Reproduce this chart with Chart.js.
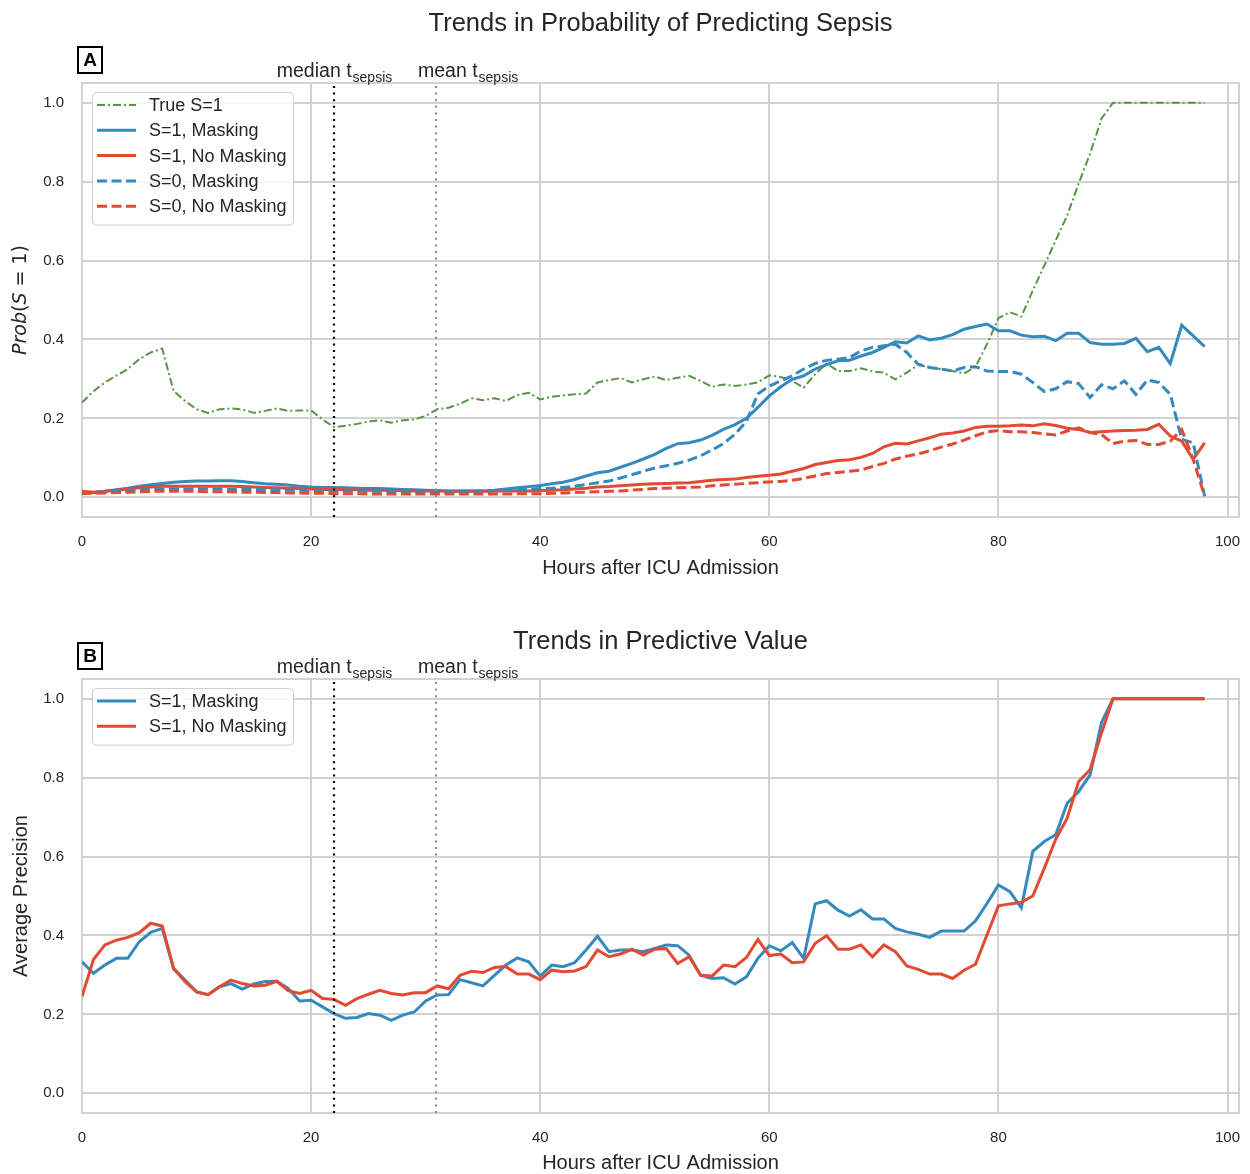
<!DOCTYPE html>
<html>
<head>
<meta charset="utf-8">
<script src="https://cdn.jsdelivr.net/npm/chart.js@4.4.0/dist/chart.umd.min.js"></script>
<style>
  body { margin: 0; background: #fff; width: 1250px; height: 1174px; overflow: hidden; position: relative; }
  .panel { position: absolute; left: 0; width: 1250px; }
  #panelA { top: 0; height: 587px; }
  #panelB { top: 596px; height: 580px; }
</style>
</head>
<body>
<div class="panel" id="panelA"><canvas id="chartA"></canvas></div>
<div class="panel" id="panelB"><canvas id="chartB"></canvas></div>
<script>
// hours after ICU admission
const hours = [
  0, 1, 2, 3, 4, 5, 6, 7, 8, 9, 10, 11, 12, 13, 14, 15, 16, 17, 18, 19,
  20, 21, 22, 23, 24, 25, 26, 27, 28, 29, 30, 31, 32, 33, 34, 35, 36, 37, 38, 39,
  40, 41, 42, 43, 44, 45, 46, 47, 48, 49, 50, 51, 52, 53, 54, 55, 56, 57, 58, 59,
  60, 61, 62, 63, 64, 65, 66, 67, 68, 69, 70, 71, 72, 73, 74, 75, 76, 77, 78, 79,
  80, 81, 82, 83, 84, 85, 86, 87, 88, 89, 90, 91, 92, 93, 94, 95, 96, 97, 98
];

const medianT = 22;
const meanT = 30.9;

const xTickValues = [0, 20, 40, 60, 80, 100];
const yTickValues = [0, 0.2, 0.4, 0.6, 0.8, 1.0];

// panel A: Prob(S = 1)
const trueS1 = [
  0.240, 0.269, 0.291, 0.308, 0.325, 0.350, 0.367, 0.377, 0.269, 0.244,
  0.223, 0.214, 0.223, 0.225, 0.223, 0.214, 0.219, 0.225, 0.219, 0.220,
  0.220, 0.197, 0.178, 0.181, 0.186, 0.192, 0.195, 0.189, 0.195, 0.197,
  0.206, 0.223, 0.227, 0.237, 0.251, 0.246, 0.251, 0.244, 0.259, 0.265,
  0.248, 0.255, 0.258, 0.261, 0.263, 0.291, 0.297, 0.302, 0.291, 0.299,
  0.306, 0.297, 0.303, 0.308, 0.295, 0.280, 0.286, 0.282, 0.286, 0.291,
  0.309, 0.305, 0.295, 0.278, 0.312, 0.339, 0.320, 0.320, 0.327, 0.319,
  0.316, 0.299, 0.316, 0.336, 0.329, 0.325, 0.320, 0.314, 0.331, 0.388,
  0.454, 0.469, 0.458, 0.524, 0.587, 0.651, 0.714, 0.795, 0.871, 0.960,
  1.0, 1.0, 1.0, 1.0, 1.0, 1.0, 1.0, 1.0, 1.0
];
const s1Masking = [
  0.009, 0.012, 0.015, 0.019, 0.023, 0.028, 0.032, 0.035, 0.038, 0.040,
  0.041, 0.041, 0.042, 0.042, 0.040, 0.037, 0.034, 0.033, 0.031, 0.028,
  0.026, 0.025, 0.025, 0.024, 0.023, 0.022, 0.022, 0.021, 0.020, 0.019,
  0.018, 0.017, 0.016, 0.016, 0.016, 0.016, 0.018, 0.021, 0.024, 0.027,
  0.030, 0.034, 0.038, 0.045, 0.054, 0.062, 0.066, 0.076, 0.086, 0.097,
  0.109, 0.124, 0.136, 0.138, 0.145, 0.157, 0.172, 0.184, 0.200, 0.228,
  0.257, 0.280, 0.299, 0.308, 0.325, 0.336, 0.346, 0.347, 0.358, 0.367,
  0.380, 0.394, 0.391, 0.409, 0.399, 0.403, 0.412, 0.426, 0.433, 0.439,
  0.422, 0.422, 0.411, 0.407, 0.408, 0.397, 0.416, 0.416, 0.392, 0.388,
  0.388, 0.390, 0.403, 0.369, 0.380, 0.339, 0.436, 0.409, 0.382
];
const s1NoMasking = [
  0.015, 0.013, 0.015, 0.018, 0.021, 0.024, 0.026, 0.028, 0.028, 0.028,
  0.028, 0.028, 0.028, 0.028, 0.027, 0.026, 0.025, 0.024, 0.023, 0.022,
  0.021, 0.020, 0.020, 0.019, 0.019, 0.018, 0.018, 0.017, 0.017, 0.016,
  0.016, 0.016, 0.015, 0.015, 0.015, 0.015, 0.015, 0.016, 0.016, 0.016,
  0.017, 0.018, 0.019, 0.021, 0.023, 0.026, 0.027, 0.029, 0.031, 0.033,
  0.034, 0.035, 0.036, 0.037, 0.040, 0.043, 0.045, 0.046, 0.050, 0.053,
  0.056, 0.059, 0.066, 0.073, 0.083, 0.088, 0.093, 0.095, 0.101, 0.111,
  0.128, 0.137, 0.135, 0.143, 0.151, 0.160, 0.163, 0.168, 0.177, 0.180,
  0.180, 0.181, 0.183, 0.181, 0.186, 0.182, 0.175, 0.172, 0.164, 0.166,
  0.168, 0.169, 0.170, 0.172, 0.185, 0.155, 0.142, 0.096, 0.138
];
const s0Masking = [
  0.012, 0.012, 0.014, 0.016, 0.018, 0.019, 0.020, 0.021, 0.021, 0.021,
  0.021, 0.021, 0.021, 0.020, 0.020, 0.020, 0.019, 0.019, 0.018, 0.018,
  0.017, 0.017, 0.016, 0.016, 0.015, 0.015, 0.015, 0.014, 0.014, 0.014,
  0.014, 0.014, 0.014, 0.015, 0.015, 0.016, 0.017, 0.018, 0.019, 0.020,
  0.022, 0.023, 0.025, 0.028, 0.032, 0.037, 0.041, 0.049, 0.057, 0.066,
  0.074, 0.080, 0.086, 0.094, 0.105, 0.120, 0.136, 0.160, 0.192, 0.262,
  0.282, 0.295, 0.308, 0.325, 0.339, 0.347, 0.350, 0.354, 0.371, 0.380,
  0.384, 0.388, 0.367, 0.337, 0.329, 0.325, 0.320, 0.329, 0.331, 0.320,
  0.319, 0.319, 0.312, 0.291, 0.268, 0.275, 0.293, 0.288, 0.253, 0.285,
  0.275, 0.295, 0.261, 0.297, 0.291, 0.261, 0.147, 0.138, 0.003
];
const s0NoMasking = [
  0.010, 0.010, 0.011, 0.012, 0.013, 0.014, 0.015, 0.015, 0.015, 0.015,
  0.015, 0.014, 0.014, 0.014, 0.013, 0.013, 0.012, 0.012, 0.011, 0.011,
  0.010, 0.010, 0.009, 0.009, 0.009, 0.008, 0.008, 0.008, 0.008, 0.008,
  0.008, 0.008, 0.008, 0.008, 0.008, 0.008, 0.008, 0.008, 0.009, 0.009,
  0.009, 0.010, 0.011, 0.012, 0.013, 0.014, 0.015, 0.016, 0.018, 0.020,
  0.022, 0.023, 0.024, 0.025, 0.026, 0.029, 0.031, 0.033, 0.035, 0.037,
  0.039, 0.040, 0.043, 0.048, 0.054, 0.060, 0.063, 0.066, 0.069, 0.078,
  0.086, 0.097, 0.104, 0.110, 0.118, 0.127, 0.135, 0.145, 0.156, 0.166,
  0.169, 0.166, 0.166, 0.164, 0.161, 0.158, 0.168, 0.176, 0.164, 0.159,
  0.136, 0.142, 0.144, 0.134, 0.134, 0.142, 0.172, 0.096, 0.003
];

// panel B: average precision
const apMasking = [
  0.333, 0.304, 0.325, 0.342, 0.342, 0.384, 0.408, 0.418, 0.316, 0.287,
  0.257, 0.250, 0.270, 0.278, 0.264, 0.277, 0.283, 0.284, 0.266, 0.234,
  0.236, 0.219, 0.202, 0.190, 0.192, 0.202, 0.198, 0.185, 0.198, 0.206,
  0.234, 0.249, 0.250, 0.288, 0.280, 0.272, 0.299, 0.325, 0.343, 0.333,
  0.297, 0.325, 0.321, 0.331, 0.363, 0.398, 0.359, 0.363, 0.363, 0.359,
  0.367, 0.376, 0.374, 0.350, 0.299, 0.291, 0.293, 0.277, 0.295, 0.342,
  0.374, 0.361, 0.382, 0.342, 0.480, 0.488, 0.464, 0.449, 0.465, 0.442,
  0.442, 0.418, 0.409, 0.403, 0.395, 0.411, 0.411, 0.411, 0.437, 0.481,
  0.528, 0.511, 0.470, 0.613, 0.638, 0.655, 0.735, 0.765, 0.807, 0.940,
  1.0, 1.0, 1.0, 1.0, 1.0, 1.0, 1.0, 1.0, 1.0
];
const apNoMasking = [
  0.245, 0.339, 0.376, 0.388, 0.395, 0.407, 0.431, 0.424, 0.316, 0.283,
  0.257, 0.250, 0.270, 0.287, 0.278, 0.272, 0.274, 0.284, 0.260, 0.253,
  0.261, 0.240, 0.238, 0.223, 0.240, 0.251, 0.261, 0.253, 0.249, 0.255,
  0.255, 0.272, 0.265, 0.299, 0.309, 0.306, 0.319, 0.321, 0.302, 0.302,
  0.288, 0.312, 0.308, 0.310, 0.321, 0.363, 0.346, 0.353, 0.365, 0.350,
  0.365, 0.367, 0.329, 0.346, 0.299, 0.297, 0.325, 0.321, 0.344, 0.390,
  0.349, 0.353, 0.331, 0.333, 0.380, 0.399, 0.365, 0.365, 0.376, 0.346,
  0.376, 0.359, 0.323, 0.314, 0.302, 0.302, 0.291, 0.312, 0.327, 0.401,
  0.475, 0.480, 0.484, 0.500, 0.570, 0.644, 0.697, 0.790, 0.820, 0.913,
  1.0, 1.0, 1.0, 1.0, 1.0, 1.0, 1.0, 1.0, 1.0
];

const FONT = '"Liberation Sans", Arial, Helvetica, sans-serif';
const MATHFONT = '"DejaVu Sans", sans-serif';
const TEXT = '#262626';
const GRID = '#d2d2d2';
const BLUE = '#348ABD';
const RED = '#E24A33';
const GREEN = '#579445';

const pts = vals => vals.map((v, i) => ({ x: hours[i], y: v }));
const vline = x => [{ x: x, y: -0.05 }, { x: x, y: 1.05 }];

function series(label, vals, color, dash, width, order) {
    return {
        label, data: pts(vals), borderColor: color, borderWidth: width,
        borderDash: dash, order, inLegend: true, borderCapStyle: 'butt'
    };
}

function markerLines() {
    return [
        { label: 'median', data: vline(medianT), borderColor: '#000', borderWidth: 2.2, borderDash: [2, 4.6], order: 0 },
        { label: 'mean', data: vline(meanT), borderColor: '#8a8a8a', borderWidth: 2, borderDash: [2, 4.6], order: 1 }
    ];
}

// draws "main" + subscript "sub", anchored at x
function subLabel(ctx, main, sub, x, y, align) {
    ctx.font = `19.5px ${FONT}`;
    const w1 = ctx.measureText(main).width;
    ctx.font = `14px ${FONT}`;
    const w2 = ctx.measureText(sub).width;
    const x0 = align === 'center' ? x - (w1 + w2) / 2 : x;
    ctx.textAlign = 'left';
    ctx.textBaseline = 'alphabetic';
    ctx.font = `19.5px ${FONT}`;
    ctx.fillText(main, x0, y);
    ctx.font = `14px ${FONT}`;
    ctx.fillText(sub, x0 + w1 + 1, y + 5);
}

const decor = {
    id: 'decor',
    beforeDatasetsDraw(chart) {
        const { ctx, chartArea: a } = chart;
        ctx.save();
        ctx.strokeStyle = GRID;
        ctx.lineWidth = 2;
        ctx.strokeRect(a.left, a.top, a.right - a.left, a.bottom - a.top);
        ctx.restore();
    },
    afterDraw(chart, args, o) {
        const { ctx, chartArea: a, scales: { x } } = chart;
        ctx.save();
        ctx.fillStyle = TEXT;

        // panel title
        ctx.font = `25.5px ${FONT}`;
        ctx.textAlign = 'center';
        ctx.textBaseline = 'middle';
        ctx.fillText(o.title, (a.left + a.right) / 2, o.titleY);

        // panel letter
        ctx.fillStyle = '#fff';
        ctx.fillRect(78, 47, 24, 26);
        ctx.strokeStyle = '#000';
        ctx.lineWidth = 2;
        ctx.strokeRect(78, 47, 24, 26);
        ctx.fillStyle = '#000';
        ctx.font = `bold 19px ${FONT}`;
        ctx.fillText(o.letter, 90, 61);

        // t_sepsis labels
        ctx.fillStyle = TEXT;
        subLabel(ctx, 'median t', 'sepsis', x.getPixelForValue(medianT), 77, 'center');
        subLabel(ctx, 'mean t', 'sepsis', x.getPixelForValue(meanT) - 18, 77, 'left');

        // y axis title (mixed italics)
        ctx.translate(21, (a.top + a.bottom) / 2);
        ctx.rotate(-Math.PI / 2);
        ctx.textAlign = 'left';
        ctx.textBaseline = 'middle';
        const fontOf = p => p[1] === 'i' ? `italic 19px ${MATHFONT}` : p[1] === 'm' ? `19px ${MATHFONT}` : `20px ${FONT}`;
        let total = 0;
        o.yTitle.forEach(p => { ctx.font = fontOf(p); total += ctx.measureText(p[0]).width; });
        let cx = -total / 2;
        o.yTitle.forEach(p => {
            ctx.font = fontOf(p);
            ctx.fillText(p[0], cx, 0);
            cx += ctx.measureText(p[0]).width;
        });
        ctx.restore();

        // legend
        const items = chart.data.datasets.filter(d => d.inLegend);
        const lx = a.left + 10, ly = a.top + 9;
        const bh = items.length * 25.3 + 6;
        ctx.save();
        ctx.fillStyle = 'rgba(255,255,255,0.85)';
        ctx.strokeStyle = '#cfcfcf';
        ctx.lineWidth = 1;
        ctx.beginPath();
        ctx.roundRect(lx + 0.5, ly + 0.5, 201, bh, 4);
        ctx.fill();
        ctx.stroke();
        o.legendOrder.forEach((name, i) => {
            const d = items.find(s => s.label === name);
            const yy = ly + 13 + i * 25.3;
            ctx.strokeStyle = d.borderColor;
            ctx.lineWidth = d.borderWidth;
            ctx.setLineDash(d.borderDash || []);
            ctx.beginPath();
            ctx.moveTo(lx + 5, yy);
            ctx.lineTo(lx + 44, yy);
            ctx.stroke();
            ctx.setLineDash([]);
            ctx.fillStyle = TEXT;
            ctx.font = `18px ${FONT}`;
            ctx.textAlign = 'left';
            ctx.textBaseline = 'middle';
            ctx.fillText(name, lx + 57, yy + 1);
        });
        ctx.restore();
    }
};

function buildChart(id, datasets, cfg) {
    return new Chart(document.getElementById(id), {
        type: 'line',
        data: { datasets },
        options: {
            responsive: true,
            maintainAspectRatio: false,
            animation: false,
            layout: { padding: { top: 83, right: 11, left: 0, bottom: 0 } },
            elements: { point: { radius: 0 }, line: { tension: 0 } },
            plugins: {
                legend: { display: false },
                title: { display: false },
                tooltip: { enabled: false },
                decor: cfg
            },
            scales: {
                x: {
                    type: 'linear', min: 0, max: 101,
                    afterBuildTicks: s => { s.ticks = xTickValues.map(v => ({ value: v })); },
                    afterFit: s => { s.height = cfg.xAxisHeight; s.paddingLeft = 0; s.paddingRight = 0; },
                    grid: { color: GRID, lineWidth: 2, drawTicks: false },
                    border: { display: false },
                    ticks: { padding: 16, color: TEXT, font: { size: 15, family: FONT }, maxRotation: 0 },
                    title: {
                        display: true, text: 'Hours after ICU Admission', color: TEXT,
                        font: { size: 20, family: FONT }, padding: { top: 0, bottom: cfg.xTitlePad }
                    }
                },
                y: {
                    min: -0.05, max: 1.05,
                    afterBuildTicks: s => { s.ticks = yTickValues.map(v => ({ value: v })); },
                    afterFit: s => { s.width = 82; s.paddingTop = 0; s.paddingBottom = 0; },
                    grid: { color: GRID, lineWidth: 2, drawTicks: false },
                    border: { display: false },
                    ticks: { padding: 18, color: TEXT, font: { size: 15, family: FONT }, callback: v => v.toFixed(1) }
                }
            }
        },
        plugins: [decor]
    });
}

buildChart('chartA', [
    series('True S=1', trueS1, GREEN, [8, 3, 2, 3], 2, 6),
    series('S=1, Masking', s1Masking, BLUE, [], 3, 5),
    series('S=1, No Masking', s1NoMasking, RED, [], 3, 4),
    series('S=0, Masking', s0Masking, BLUE, [10, 4.5], 3, 3),
    series('S=0, No Masking', s0NoMasking, RED, [10, 4.5], 3, 2),
    ...markerLines()
], {
    title: 'Trends in Probability of Predicting Sepsis',
    titleY: 24,
    letter: 'A',
    yTitle: [['Prob', 'i'], ['(', 'm'], ['S', 'i'], [' = 1)', 'm']],
    legendOrder: ['True S=1', 'S=1, Masking', 'S=1, No Masking', 'S=0, Masking', 'S=0, No Masking'],
    xAxisHeight: 70,
    xTitlePad: 7
});

buildChart('chartB', [
    series('S=1, Masking', apMasking, BLUE, [], 3, 5),
    series('S=1, No Masking', apNoMasking, RED, [], 3, 4),
    ...markerLines()
], {
    title: 'Trends in Predictive Value',
    titleY: 46,
    letter: 'B',
    yTitle: [['Average Precision', 'n']],
    legendOrder: ['S=1, Masking', 'S=1, No Masking'],
    xAxisHeight: 63,
    xTitlePad: 1
});
</script>
</body>
</html>
